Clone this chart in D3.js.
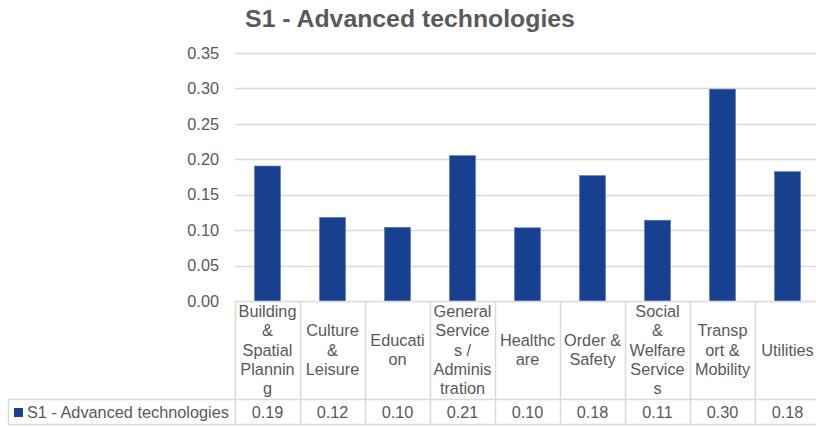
<!DOCTYPE html>
<html lang="en">
<head>
    <meta charset="UTF-8">
    <script src="https://d3js.org/d3.v7.min.js"></script>
    <style>
        body { margin: 0; background: #fff; }
        text { font-family: "Liberation Sans", Arial, sans-serif; fill: #595959; }
    </style>
</head>
<body>
<div id="chart"></div>
<script>
    var title = "S1 - Advanced technologies";
    var seriesName = "S1 - Advanced technologies";
    var categories = ["Building & Spatial Planning", "Culture & Leisure", "Education",
        "General Services / Administration", "Healthcare", "Order & Safety",
        "Social & Welfare Services", "Transport & Mobility", "Utilities"];
    // wrapped the way the table header shows them
    var categoryLines = [
        ["Building", "&", "Spatial", "Plannin", "g"],
        ["Culture", "&", "Leisure"],
        ["Educati", "on"],
        ["General", "Service", "s /", "Adminis", "tration"],
        ["Healthc", "are"],
        ["Order &", "Safety"],
        ["Social", "&", "Welfare", "Service", "s"],
        ["Transp", "ort &", "Mobility"],
        ["Utilities"]
    ];
    var values = [0.1905, 0.118, 0.104, 0.2051, 0.1033, 0.177, 0.114, 0.299, 0.1825];
    var yTicks = [0, 0.05, 0.10, 0.15, 0.20, 0.25, 0.30, 0.35];

    var W = 816, H = 427;
    var plotLeft = 235, plotTop = 53, plotBottom = 301, colW = 65;
    var headBottom = 399, rowBottom = 424, legendLeft = 8;
    var barColor = "#17408f", gridColor = "#d9d9d9";
    var fs = "16.3px";

    var svg = d3.select("#chart").append("svg")
        .attr("width", W).attr("height", H);

    var x = d3.scaleBand().domain(categories)
        .range([plotLeft, plotLeft + colW * categories.length]);
    var y = d3.scaleLinear().domain([0, 0.35]).range([plotBottom, plotTop]);

    // title
    svg.append("text")
        .attr("x", 410).attr("y", 27)
        .attr("text-anchor", "middle")
        .style("font-size", "24.8px").style("font-weight", "bold")
        .text(title);

    // gridlines
    svg.append("g").selectAll("line")
        .data(yTicks.filter(function(d) { return d > 0; }))
        .join("line")
        .attr("x1", plotLeft).attr("x2", W)
        .attr("y1", function(d) { return Math.round(y(d)) + 0.5; })
        .attr("y2", function(d) { return Math.round(y(d)) + 0.5; })
        .attr("stroke", gridColor).attr("stroke-width", 1.5);

    // y tick labels
    svg.append("g").selectAll("text")
        .data(yTicks)
        .join("text")
        .attr("x", 219)
        .attr("y", function(d) { return y(d); })
        .attr("dy", "0.35em")
        .attr("text-anchor", "end")
        .style("font-size", fs)
        .text(d3.format(".2f"));

    // bars
    var barW = 26;
    svg.append("g").selectAll("rect")
        .data(values)
        .join("rect")
        .attr("x", function(d, i) { return x(categories[i]) + (x.bandwidth() - barW) / 2; })
        .attr("y", function(d) { return y(d); })
        .attr("width", barW)
        .attr("height", function(d) { return y(0) - y(d); })
        .attr("fill", barColor)
        .attr("stroke", "#5a78b8").attr("stroke-width", 0.6);

    // data table lines
    var right = plotLeft + colW * categories.length;
    var tbl = svg.append("g").attr("stroke", gridColor).attr("stroke-width", 1.5);
    tbl.append("line").attr("x1", plotLeft).attr("x2", right).attr("y1", plotBottom + 0.5).attr("y2", plotBottom + 0.5);
    tbl.append("line").attr("x1", legendLeft).attr("x2", right).attr("y1", headBottom + 0.5).attr("y2", headBottom + 0.5);
    tbl.append("line").attr("x1", legendLeft).attr("x2", right).attr("y1", rowBottom + 0.5).attr("y2", rowBottom + 0.5);
    tbl.append("line").attr("x1", legendLeft + 0.5).attr("x2", legendLeft + 0.5).attr("y1", headBottom).attr("y2", rowBottom);
    tbl.selectAll(".vl")
        .data(categories.concat(["end"]))
        .join("line")
        .attr("x1", function(d, i) { return plotLeft + i * colW + 0.5; })
        .attr("x2", function(d, i) { return plotLeft + i * colW + 0.5; })
        .attr("y1", plotBottom).attr("y2", rowBottom);

    // header labels
    var lineH = 19.3;
    var head = svg.append("g").selectAll("text")
        .data(categoryLines)
        .join("text")
        .attr("text-anchor", "middle")
        .style("font-size", fs)
        .attr("transform", function(d, i) {
            var cx = x(categories[i]) + x.bandwidth() / 2;
            var cy = (plotBottom + headBottom) / 2 - (d.length - 1) * lineH / 2;
            return "translate(" + cx + "," + cy + ")";
        });
    head.selectAll("tspan")
        .data(function(d) { return d; })
        .join("tspan")
        .attr("x", 0)
        .attr("y", function(d, i) { return i * lineH; })
        .attr("dy", "0.35em")
        .text(function(d) { return d; });

    // value row
    var rowY = (headBottom + rowBottom) / 2 + 1;
    svg.append("g").selectAll("text")
        .data(values)
        .join("text")
        .attr("x", function(d, i) { return x(categories[i]) + x.bandwidth() / 2; })
        .attr("y", rowY)
        .attr("dy", "0.35em")
        .attr("text-anchor", "middle")
        .style("font-size", fs)
        .text(d3.format(".2f"));

    // legend key
    svg.append("rect")
        .attr("x", 14).attr("y", rowY - 4.5)
        .attr("width", 9).attr("height", 9)
        .attr("fill", barColor);
    svg.append("text")
        .attr("x", 27).attr("y", rowY)
        .attr("dy", "0.35em")
        .style("font-size", fs)
        .text(seriesName);
</script>
</body>
</html>
